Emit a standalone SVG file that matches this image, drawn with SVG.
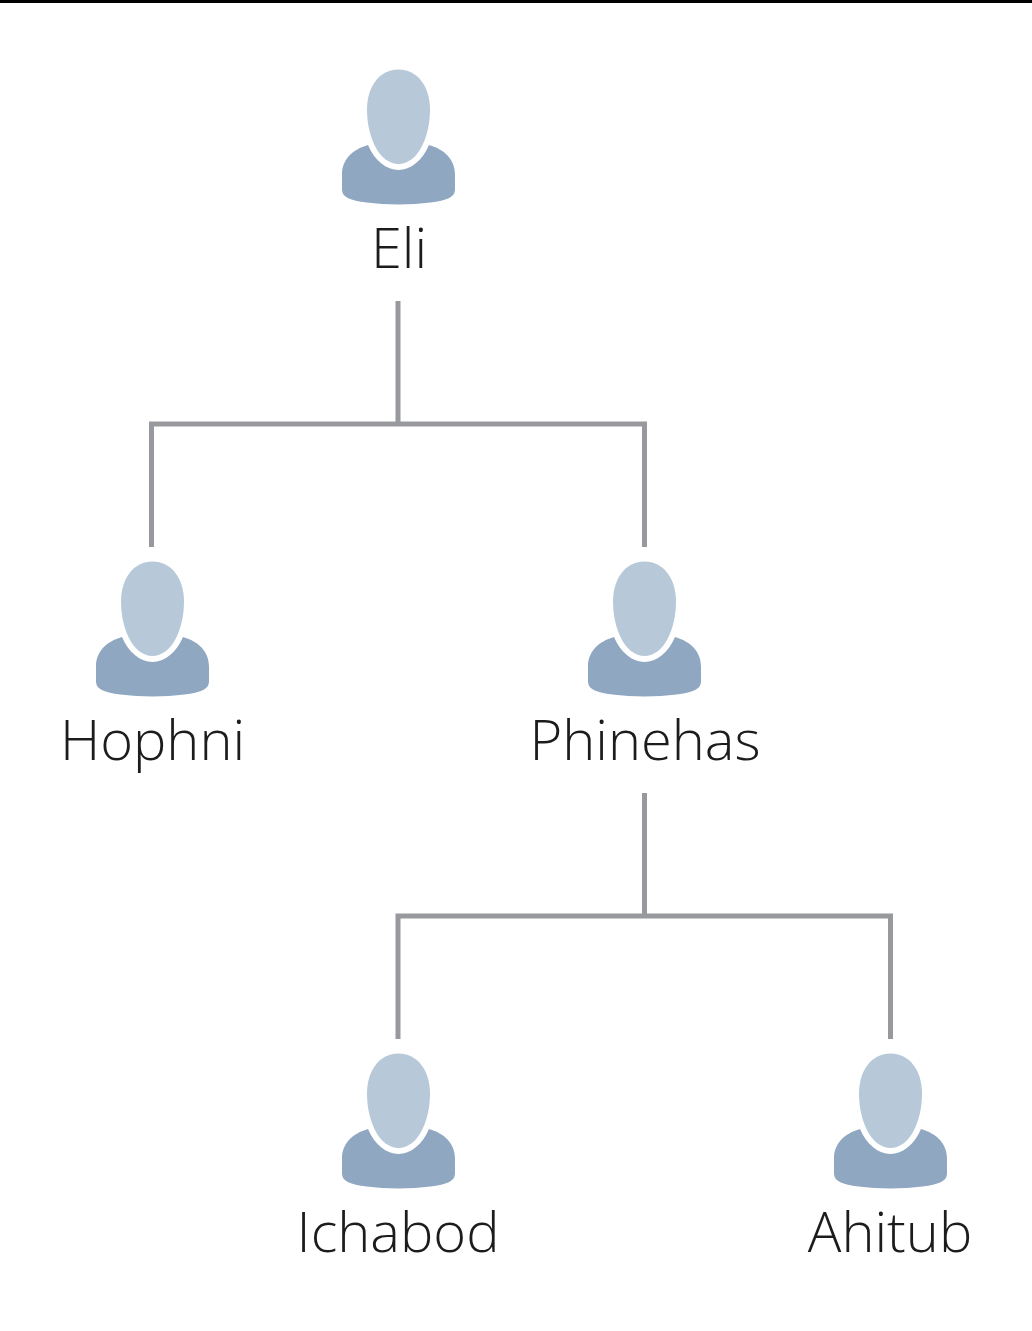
<svg xmlns="http://www.w3.org/2000/svg" width="1032" height="1331" viewBox="0 0 1032 1331">
<style>
.bg{fill:#fff}
.label{font-family:"Open Sans","Noto Sans",sans-serif;font-weight:300;font-size:56px;fill:#1c1c1c;text-anchor:middle}
.head{fill:#b7c9d9}
.body{fill:#90a7c2}
.conn{fill:none;stroke:#98999c;stroke-width:5;stroke-linejoin:miter}
</style>
<defs>
<g id="person">
<path class="body" d="M-30.500 75.500 C-46 80 -56.500 90 -56.500 105 L-56.500 120 C-56.500 128 -48 131 -32 133 C-12 135.500 12 135.500 32 133 C48 131 56.500 128 56.500 120 L56.500 105 C56.500 90 46 80 30.500 75.500 C24 91 12 100.500 0 100.500 C-12 100.500 -24 91 -30.500 75.500 Z"/>
<path class="head" d="M0 0 C19 0 31.500 17 31.500 40 C31.500 68 19 94.500 0 94.500 C-19 94.500 -31.500 68 -31.500 40 C-31.500 17 -19 0 0 0 Z"/>
</g>
</defs>
<rect class="bg" width="1032" height="1331"/>
<rect x="0" y="0" width="1032" height="3" fill="#000"/>
<g id="connectors">
<path class="conn" d="M398 301 V424 M151.500 547 V424 H644.500 V547"/>
<path class="conn" d="M644.500 793 V916 M398 1039 V916 H890.500 V1039"/>
</g>
<g id="eli"><use href="#person" x="398.500" y="69.500"/><text class="label" x="399" y="268">Eli</text></g>
<g id="hophni"><use href="#person" x="152.500" y="561.500"/><text class="label" x="152.500" y="760">Hophni</text></g>
<g id="phinehas"><use href="#person" x="644.500" y="561.500"/><text class="label" x="645" y="760">Phinehas</text></g>
<g id="ichabod"><use href="#person" x="398.500" y="1053.500"/><text class="label" x="398" y="1252">Ichabod</text></g>
<g id="ahitub"><use href="#person" x="890.500" y="1053.500"/><text class="label" x="890" y="1252">Ahitub</text></g>
</svg>
